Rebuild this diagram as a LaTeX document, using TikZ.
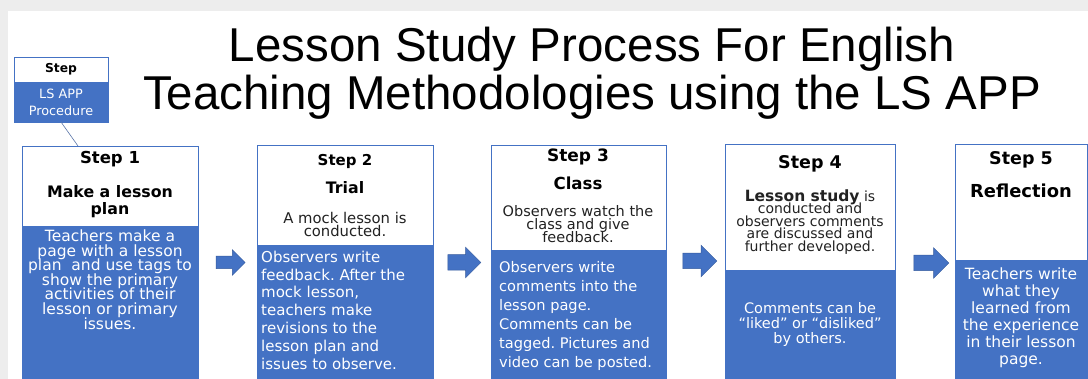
\documentclass[tikz,border=0pt]{standalone}
\usepackage{fontspec}
\setmainfont{DejaVu Sans}
\newfontfamily\titlefont{Liberation Sans}
\usetikzlibrary{positioning,shapes.arrows}
\definecolor{lsblue}{HTML}{4472C4}
\definecolor{lsgrey}{HTML}{EDEDED}
\definecolor{lsink}{HTML}{222222}
\frenchspacing
\newcommand\fs[2]{\fontsize{#1}{#2}\selectfont\lineskiplimit=-50pt\relax}
\newcommand\StepBox[5]{
	\node [headbox, minimum width=#4, minimum height=#5] (#1top) at (#2,#3) {};
	\node [bodybox, minimum width=#4, below=0pt of #1top] (#1body) {};
}
\tikzset{
	headbox/.style={draw=lsblue, line width=0.9pt, fill=white, inner sep=0pt, outer sep=0pt, anchor=north west},
	bodybox/.style={draw=lsblue, line width=0.9pt, fill=lsblue, inner sep=0pt, outer sep=0pt, minimum height=170pt},
	titletext/.style={inner sep=0pt, anchor=base, font=\titlefont\fs{47.5}{48}},
	steptitle/.style n args={2}{text=black, inner sep=0pt, anchor=north, align=center, font=\bfseries\fs{#1}{#2}},
	notetext/.style n args={2}{text=lsink, inner sep=0pt, anchor=north, align=center, font=\fs{#1}{#2}},
	bodytext/.style n args={2}{text=white, inner sep=0pt, anchor=north, align=center, font=\fs{#1}{#2}},
	flowarrow/.style n args={3}{single arrow, fill=lsblue, draw=lsblue!80!black, line width=0.5pt,
		inner xsep=0pt, inner ysep=#2, minimum height=#1, single arrow head extend=#3}
}

\begin{document}
\begin{tikzpicture}[x=1pt, y=-1pt]
	\useasboundingbox (0,0) rectangle (1088,379);
	\clip (0,0) rectangle (1088,379);
	\fill [lsgrey] (0,0) rectangle (1088,379);
	\fill [white] (8,11) rectangle (1088,379);

	\node [titletext] (title1) at (592,62) {Lesson Study Process For English};
	\node [titletext] (title2) at (592,110) {Teaching Methodologies using the LS APP};

	\node [headbox, minimum width=94pt, minimum height=25pt, font=\bfseries\fs{12.3}{14}] (lgtop) at (14,57) {Step};
	\node [bodybox, minimum width=94pt, minimum height=40pt, below=0pt of lgtop, text=white, align=center, font=\fs{12.8}{17}] (lgbody) {LS APP\\Procedure};

	\StepBox{s1}{22}{146}{176pt}{80pt}
	\StepBox{s2}{257}{145}{176pt}{100pt}
	\StepBox{s3}{491}{145}{175pt}{105pt}
	\StepBox{s4}{725}{144}{170pt}{126pt}
	\StepBox{s5}{955}{144}{132pt}{116pt}

	\draw [lsblue!60!gray, line width=0.6pt] (lgbody.south) -- ([xshift=56pt]s1top.north west);

	\node [steptitle={16.5}{18}] (s1step) at (110,151) {Step 1};
	\node [steptitle={15.8}{17}] (s1name) at (110,185) {Make a lesson\\plan};
	\node [bodytext={15.5}{14.6}] (s1text) at (110,229.5) {Teachers make a\\page with a lesson\\plan\ \ and use tags to\\show the primary\\activities of their\\lesson or primary\\issues.};

	\node [steptitle={15}{17}] (s2step) at (345,154.6) {Step 2};
	\node [steptitle={15.8}{17}] (s2name) at (345,181.3) {Trial};
	\node [notetext={14.8}{13}] (s2note) at (345,211.7) {A mock lesson is\\conducted.};
	\node [bodytext={15}{17.9}, anchor=north west, align=left] (s2text) at (261,250.6) {Observers write\\feedback. After the\\mock lesson,\\teachers make\\revisions to the\\lesson plan and\\issues to observe.};

	\node [steptitle={17}{18}] (s3step) at (578,148.9) {Step 3};
	\node [steptitle={16.6}{18}] (s3name) at (578,177) {Class};
	\node [notetext={14.5}{13}] (s3note) at (578,204.8) {Observers watch the\\class and give\\feedback.};
	\node [bodytext={14.6}{19}, anchor=north west, align=left] (s3text) at (499,261.7) {Observers write\\comments into the\\lesson page.\\Comments can be\\tagged. Pictures and\\video can be posted.};

	\node [steptitle={17.5}{18}] (s4step) at (810,155.7) {Step 4};
	\node [notetext={14}{12.5}] (s4note) at (810,189.4) {{\bfseries\fs{15.5}{12.5}Lesson study} is\\conducted and\\observers comments\\are discussed and\\further developed.};
	\node [bodytext={14.5}{15}] (s4text) at (810,301.8) {Comments can be\\“liked” or “disliked”\\by others.};

	\node [steptitle={17.5}{18}] (s5step) at (1021,151.7) {Step 5};
	\node [steptitle={17.9}{18}] (s5name) at (1021,183.6) {Reflection};
	\node [bodytext={15.5}{17}] (s5text) at (1021,267.2) {Teachers write\\what they\\learned from\\the experience\\in their lesson\\page.};

	\node [flowarrow={29pt}{6pt}{6.5pt}] (ar12) at (227.5,262.5) {};
	\node [flowarrow={33pt}{7.5pt}{7.5pt}] (ar23) at (460.5,262.5) {};
	\node [flowarrow={34pt}{7.5pt}{8pt}] (ar34) at (696,261) {};
	\node [flowarrow={35pt}{7.5pt}{7.5pt}] (ar45) at (927.5,263) {};
\end{tikzpicture}
\end{document}
